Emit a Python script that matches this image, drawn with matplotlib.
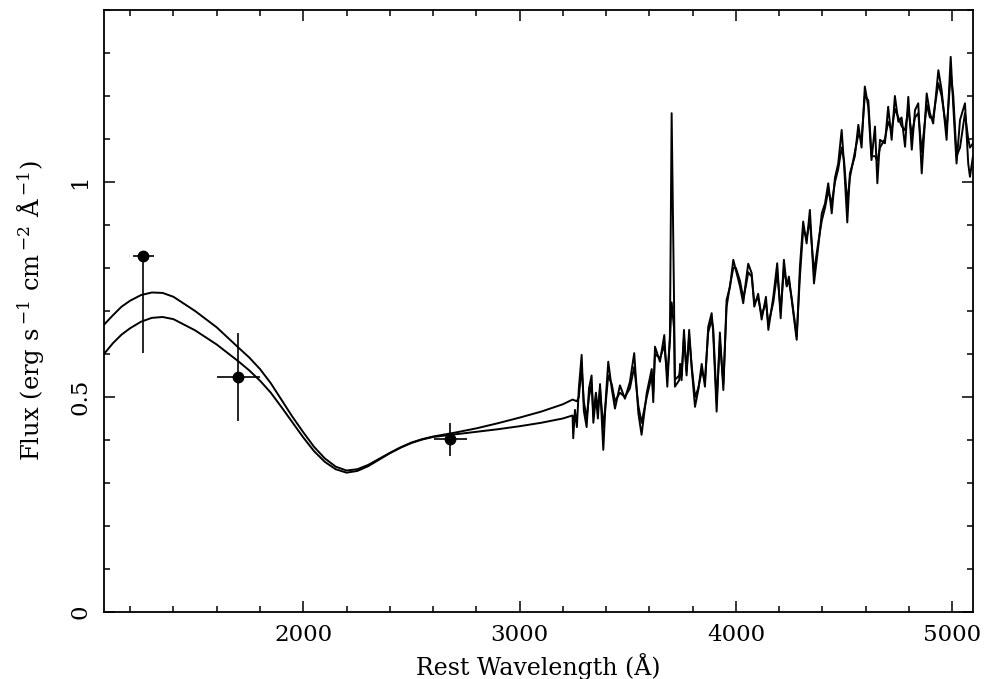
import numpy as np
import matplotlib
matplotlib.use("Agg")
import matplotlib.pyplot as plt
from matplotlib.ticker import MultipleLocator, FixedLocator, FuncFormatter

plt.rcParams['font.family'] = ['DejaVu Serif']
plt.rcParams['mathtext.fontset'] = 'dejavuserif'

# broadband photometry (rest wavelength, flux, errors)
phot_wave = [1260, 1700, 2680]
phot_flux = [0.828, 0.547, 0.402]
phot_xerr = [48, 100, 75]
phot_yerr_lo = [0.226, 0.104, 0.039]
phot_yerr_hi = [0.0, 0.101, 0.038]

# two model continua in the UV
model_wave = [1079, 1120, 1160, 1200, 1250, 1300, 1350, 1400, 1500, 1600, 1700,
              1750, 1800, 1850, 1900, 1950, 2000, 2050, 2100, 2150, 2200, 2250,
              2300, 2350, 2400, 2450, 2500, 2550, 2600, 2700, 2800, 2900, 3000,
              3100, 3200, 3245]
model_hi = [0.668, 0.690, 0.710, 0.724, 0.737, 0.743, 0.742, 0.733, 0.700, 0.662,
            0.615, 0.592, 0.565, 0.532, 0.493, 0.454, 0.418, 0.384, 0.357, 0.338,
            0.329, 0.332, 0.342, 0.356, 0.370, 0.383, 0.394, 0.402, 0.408, 0.417,
            0.427, 0.439, 0.452, 0.466, 0.483, 0.494]
model_lo = [0.600, 0.625, 0.645, 0.660, 0.675, 0.684, 0.686, 0.681, 0.655, 0.622,
            0.583, 0.562, 0.538, 0.510, 0.476, 0.441, 0.406, 0.374, 0.349, 0.332,
            0.324, 0.328, 0.339, 0.354, 0.369, 0.382, 0.393, 0.401, 0.407, 0.413,
            0.419, 0.425, 0.432, 0.440, 0.450, 0.457]

# optical spectra
spec_wave = [3248, 3256, 3265, 3274, 3287, 3297, 3310, 3321, 3333, 3341, 3353, 3362,
             3372, 3387, 3399, 3410, 3426, 3441, 3464, 3487, 3510, 3530, 3549, 3564,
             3588, 3611, 3618, 3626, 3649, 3669, 3683, 3695, 3703, 3714, 3718, 3738,
             3742, 3749, 3760, 3772, 3784, 3796, 3811, 3826, 3842, 3857, 3872, 3888,
             3895, 3911, 3926, 3942, 3957, 3973, 3988, 4000, 4019, 4034, 4047, 4057,
             4073, 4085, 4103, 4119, 4139, 4150, 4173, 4191, 4207, 4222, 4235, 4245,
             4258, 4281, 4296, 4311, 4327, 4342, 4361, 4381, 4397, 4412, 4427, 4443,
             4458, 4473, 4489, 4500, 4515, 4527, 4550, 4566, 4581, 4596, 4612, 4627,
             4643, 4654, 4666, 4689, 4704, 4720, 4735, 4751, 4766, 4782, 4797, 4813,
             4828, 4843, 4859, 4882, 4897, 4912, 4936, 4951, 4974, 4993, 5005, 5020,
             5036, 5059, 5074, 5082, 5096]
spec_a = [0.404, 0.47, 0.43, 0.52, 0.598, 0.468, 0.43, 0.52, 0.55, 0.44, 0.50, 0.45,
          0.53, 0.377, 0.50, 0.582, 0.52, 0.473, 0.527, 0.496, 0.535, 0.602, 0.463, 0.412,
          0.51, 0.565, 0.488, 0.617, 0.582, 0.644, 0.524, 0.643, 1.16, 0.73, 0.524, 0.539,
          0.577, 0.539, 0.656, 0.55, 0.656, 0.565, 0.477, 0.516, 0.577, 0.524, 0.663, 0.695,
          0.65, 0.466, 0.65, 0.516, 0.726, 0.757, 0.819, 0.795, 0.757, 0.718, 0.772, 0.81,
          0.788, 0.71, 0.74, 0.68, 0.733, 0.656, 0.733, 0.811, 0.683, 0.819, 0.757, 0.78,
          0.726, 0.633, 0.803, 0.908, 0.857, 0.935, 0.764, 0.85, 0.927, 0.95, 0.997, 0.927,
          1.01, 1.043, 1.121, 1.04, 0.906, 1.02, 1.06, 1.133, 1.08, 1.222, 1.175, 1.051,
          1.129, 0.997, 1.098, 1.09, 1.175, 1.098, 1.2, 1.14, 1.15, 1.082, 1.198, 1.075,
          1.167, 1.183, 1.02, 1.206, 1.16, 1.136, 1.26, 1.214, 1.098, 1.291, 1.175, 1.043,
          1.144, 1.183, 1.043, 1.012, 1.06]
# second spectrum starts at spec_wave[2]
spec_b = [0.49, 0.50, 0.57, 0.49, 0.45, 0.50, 0.53, 0.46, 0.51, 0.47,
          0.52, 0.43, 0.49, 0.55, 0.53, 0.49, 0.51, 0.50, 0.52, 0.57, 0.48, 0.44,
          0.50, 0.55, 0.51, 0.60, 0.59, 0.62, 0.55, 0.63, 0.72, 0.66, 0.54, 0.55,
          0.56, 0.55, 0.64, 0.56, 0.64, 0.57, 0.50, 0.52, 0.56, 0.54, 0.65, 0.68,
          0.66, 0.49, 0.63, 0.53, 0.71, 0.76, 0.80, 0.80, 0.77, 0.73, 0.76, 0.79,
          0.78, 0.72, 0.73, 0.69, 0.72, 0.67, 0.72, 0.79, 0.70, 0.80, 0.76, 0.77,
          0.73, 0.64, 0.78, 0.89, 0.87, 0.91, 0.79, 0.86, 0.91, 0.94, 0.98, 0.95,
          1.00, 1.03, 1.08, 1.05, 0.95, 1.01, 1.07, 1.11, 1.10, 1.20, 1.19, 1.06,
          1.06, 1.05, 1.08, 1.10, 1.14, 1.12, 1.17, 1.15, 1.13, 1.12, 1.17, 1.11,
          1.15, 1.16, 1.07, 1.18, 1.15, 1.15, 1.23, 1.20, 1.12, 1.25, 1.20, 1.06,
          1.08, 1.16, 1.10, 1.08, 1.09]

fig = plt.figure(figsize=(9.84, 6.79), dpi=100)
ax = fig.add_axes([0.1057, 0.0987, 0.8831, 0.8866])

# lower model joins spectrum A, upper model joins spectrum B
ax.plot(np.concatenate([model_wave, spec_wave]),
        np.concatenate([model_lo, spec_a]), color='black', lw=1.4)
ax.plot(np.concatenate([model_wave, spec_wave[2:]]),
        np.concatenate([model_hi, spec_b]), color='black', lw=1.4)

ax.errorbar(phot_wave, phot_flux, xerr=phot_xerr,
            yerr=[phot_yerr_lo, phot_yerr_hi], fmt='o', color='black',
            ms=7.5, elinewidth=1.2, capsize=0)

ax.set_xlim(1079, 5096)
ax.set_ylim(0, 1.4)
ax.xaxis.set_major_locator(FixedLocator([2000, 3000, 4000, 5000]))
ax.xaxis.set_minor_locator(MultipleLocator(200))
ax.yaxis.set_major_locator(FixedLocator([0, 0.5, 1.0]))
ax.yaxis.set_minor_locator(MultipleLocator(0.1))
ax.yaxis.set_major_formatter(FuncFormatter(lambda v, p: '%g' % v))

ax.tick_params(which='both', direction='in', top=True, right=True,
               labelsize=16.5, width=1.1, pad=9)
ax.tick_params(which='major', length=8)
ax.tick_params(which='minor', length=4)
for lab in ax.get_yticklabels():
    lab.set_rotation(90)
    lab.set_va('center')
for s in ax.spines.values():
    s.set_linewidth(1.3)

ax.set_xlabel('Rest Wavelength (Å)', fontsize=17, labelpad=5)
ax.set_ylabel(r'Flux (erg s$\,^{-1}$ cm$\,^{-2}$ Å$\,^{-1}$)', fontsize=17.5, labelpad=16)

fig.savefig('out.png', dpi=100)
